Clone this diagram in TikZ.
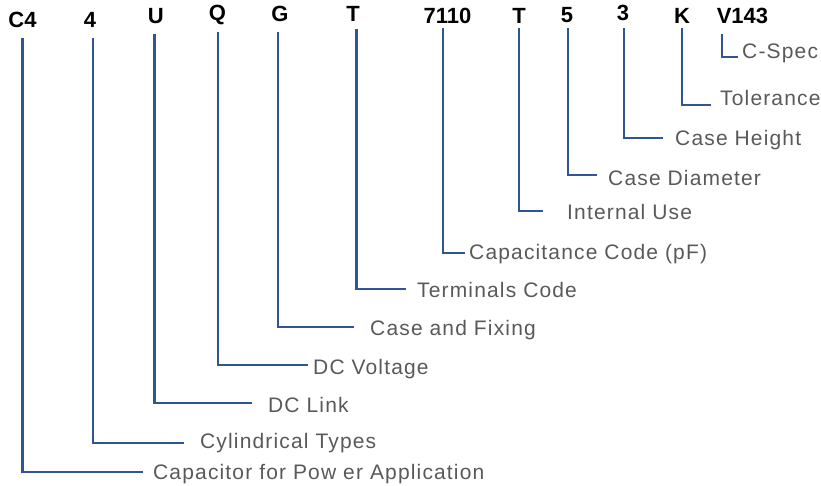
\documentclass[tikz,border=0pt]{standalone}
\usepackage{fontspec}
\setmainfont{Liberation Sans}
\newfontfamily\lblfont{Liberation Sans}[LetterSpace=5.5]
\definecolor{lineblue}{RGB}{47,85,151}
\definecolor{txtgray}{RGB}{89,89,89}
\tikzset{
  hdr/.style={anchor=base, inner sep=0pt, text=black, font=\fontsize{22}{26}\selectfont\bfseries},
  lbl/.style={anchor=base west, inner sep=0pt, text=txtgray, font=\fontsize{21}{25}\selectfont\lblfont},
  conn/.style={draw=lineblue, line width=2.5pt}
}
\begin{document}
\begin{tikzpicture}[x=1pt,y=-1pt]
\useasboundingbox (0,0) rectangle (821,485);
% header codes
\node[hdr] (h1) at (22.5,27) {C4};
\node[hdr] (h2) at (90,27) {4};
\node[hdr] (h3) at (155.8,23.3) {U};
\node[hdr] (h4) at (217.5,20) {Q};
\node[hdr] (h5) at (280,21.7) {G};
\node[hdr] (h6) at (353,21.7) {T};
\node[hdr] (h7) at (447.5,23.3) {7110};
\node[hdr] (h8) at (519,23.3) {T};
\node[hdr] (h9) at (567,22) {5};
\node[hdr] (h10) at (623,20) {3};
\node[hdr] (h11) at (682,23) {K};
\node[hdr] (h12) at (742.5,23.3) {V143};
% labels
\node[lbl] (l1) at (153,479) {Capacitor for Pow er Application};
\node[lbl] (l2) at (200,448) {Cylindrical Types};
\node[lbl] (l3) at (268,412) {DC Link};
\node[lbl] (l4) at (313,374) {DC Voltage};
\node[lbl] (l5) at (370,335) {Case and Fixing};
\node[lbl] (l6) at (417,297) {Terminals Code};
\node[lbl] (l7) at (469,259) {Capacitance Code (pF)};
\node[lbl] (l8) at (567,219) {Internal Use};
\node[lbl] (l9) at (608,185) {Case Diameter};
\node[lbl] (l10) at (675,145) {Case Height};
\node[lbl] (l11) at (720,105) {Tolerance};
\node[lbl] (l12) at (742,58) {C-Spec};
% connector ends
\coordinate (t1) at (22.5,38);  \coordinate (e1) at (143,472);
\coordinate (t2) at (93,38);    \coordinate (e2) at (184,443);
\coordinate (t3) at (154.5,34); \coordinate (e3) at (252,403);
\coordinate (t4) at (218,32);   \coordinate (e4) at (308,365);
\coordinate (t5) at (278,32);   \coordinate (e5) at (354,327);
\coordinate (t6) at (356.5,29); \coordinate (e6) at (406,289);
\coordinate (t7) at (443,28);   \coordinate (e7) at (465,253);
\coordinate (t8) at (519,28);   \coordinate (e8) at (543,211);
\coordinate (t9) at (568,28);   \coordinate (e9) at (597,175);
\coordinate (t10) at (624,28);  \coordinate (e10) at (663,138);
\coordinate (t11) at (682,28);  \coordinate (e11) at (711,105);
\coordinate (t12) at (722,34);  \coordinate (e12) at (738,57);
\foreach \i in {1,...,12} {
  \draw[conn] (t\i) |- (e\i);
}
\end{tikzpicture}
\end{document}
